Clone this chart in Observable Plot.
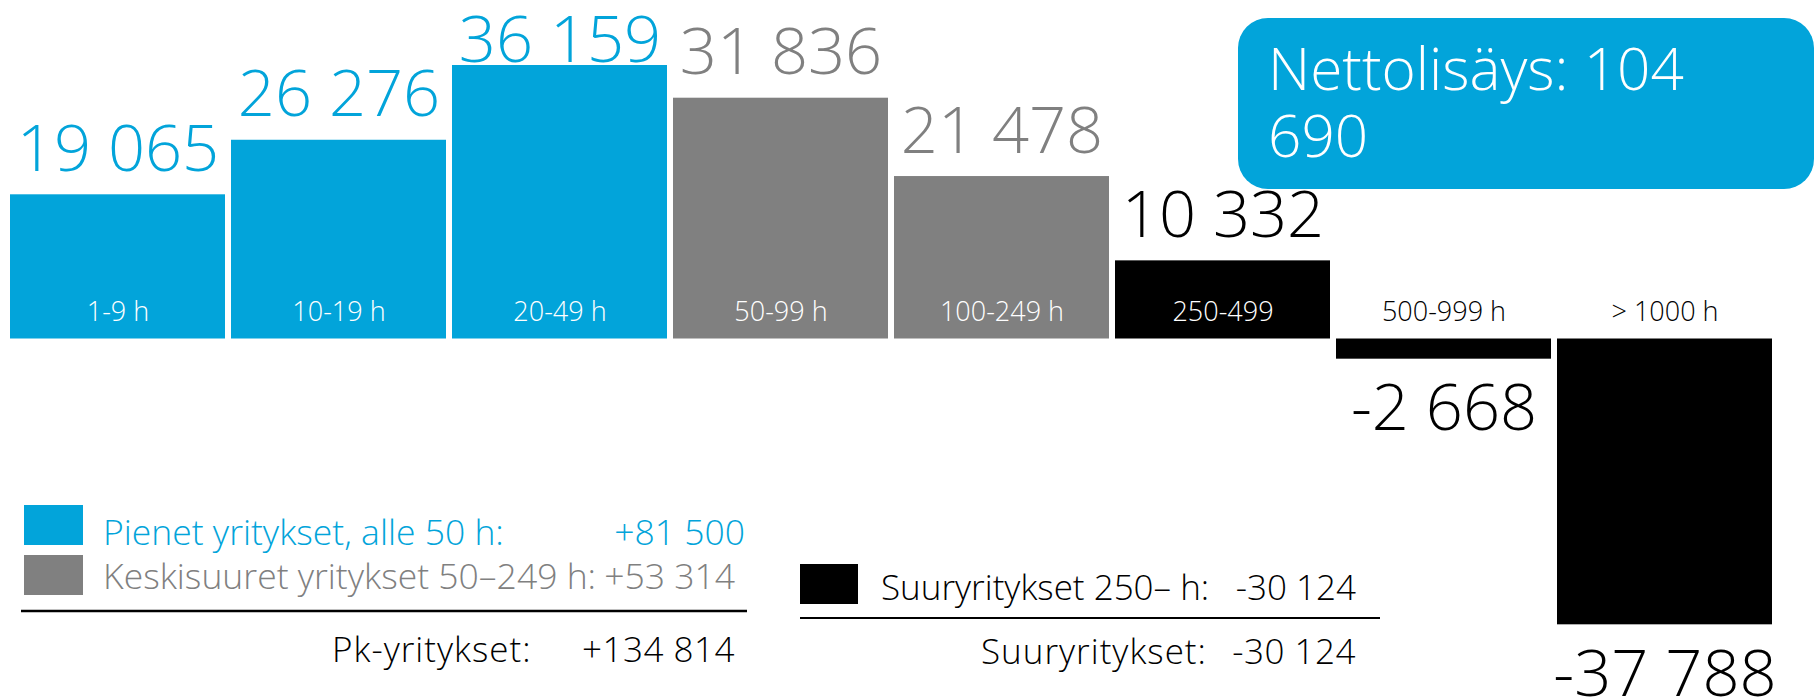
<!DOCTYPE html>
<html><head><meta charset="utf-8">
<script src="https://cdn.jsdelivr.net/npm/d3@7"></script>
<script src="https://cdn.jsdelivr.net/npm/@observablehq/plot@0.6"></script>
<style>
body{margin:0;background:#fff;}
#chart{position:relative;width:1818px;height:700px;}
svg{display:block;}
</style></head><body><div id="chart"></div>
<script>
// ---- data ----
const categories = ["1-9 h","10-19 h","20-49 h","50-99 h","100-249 h","250-499","500-999 h","> 1000 h"];
const values = [19065, 26276, 36159, 31836, 21478, 10332, -2668, -37788];
const valueLabels = ["19 065","26 276","36 159","31 836","21 478","10 332","-2 668","-37 788"];
const groups = ["pienet","pienet","pienet","keski","keski","suur","suur","suur"];
const legendGroups = ["pienet","keski","suur"];
const legendLabels = ["Pienet yritykset, alle 50 h:", "Keskisuuret yritykset 50\u2013249 h:", "Suuryritykset 250\u2013 h:"];
const legendValues = ["+81 500", "+53 314", "-30 124"];
const totalLabels = ["Pk-yritykset:", "Suuryritykset:"];
const totalValues = ["+134 814", "-30 124"];
const netText = "Nettolisäys: 104 690";

// ---- styles ----
const colorOf = {pienet:"#02A4DA", keski:"#808080", suur:"#000000"};
const FONT = "'Open Sans', sans-serif";
const W = 1818, H = 700;
const yDomain = [-47793, 44753];
const pxPerUnit = H / (yDomain[1] - yDomain[0]);
const gapPx = 24, topLimitPx = 61;

const data = categories.map((c, i) => ({cat: c, value: values[i], label: valueLabels[i], group: groups[i]}));
const pos = data.filter(d => d.value >= 0);
const neg = data.filter(d => d.value < 0);

const chart = Plot.plot({
  width: W, height: H, margin: 0,
  style: {fontFamily: FONT, background: "white"},
  x: {domain: categories, range: [9, 1773], paddingInner: 0.0285, paddingOuter: 0, axis: null},
  y: {domain: yDomain, axis: null},
  color: {type: "identity"},
  marks: [
    Plot.barY(data, {x: "cat", y: "value", fill: d => colorOf[d.group]}),
    Plot.text(pos, {
      x: "cat",
      y: d => Math.min(d.value + gapPx / pxPerUnit, yDomain[1] - topLimitPx / pxPerUnit),
      text: "label", lineAnchor: "bottom", fontSize: 65, fontWeight: 300,
      fill: d => colorOf[d.group]
    }),
    Plot.text(neg, {
      x: "cat", y: "value", dy: 25, text: "label", lineAnchor: "top",
      fontSize: 65, fontWeight: 300, fill: d => colorOf[d.group]
    }),
    Plot.text(data, {
      x: "cat", y: 0, dy: -18, text: "cat", lineAnchor: "bottom",
      fontSize: 27, fontWeight: 300, fill: d => d.value >= 0 ? "white" : "black"
    })
  ]
});
document.getElementById("chart").appendChild(chart);

// ---- annotations: callout and legend ----
const svg = d3.select(chart);
const ann = svg.append("g").attr("font-family", FONT).attr("font-weight", 300).attr("text-anchor", "start");
const txt = (x, y, size, fill, t, anchor = "start", weight = 300, spacing = 0) =>
  ann.append("text").attr("x", x).attr("y", y).attr("font-size", size).attr("fill", fill)
    .attr("font-weight", weight).attr("letter-spacing", spacing).attr("text-anchor", anchor).text(t);

// callout box
const sp = netText.lastIndexOf(" ");
const netLines = [netText.slice(0, sp), netText.slice(sp + 1)];
ann.append("rect").attr("x", 1238).attr("y", 18).attr("width", 576).attr("height", 171)
  .attr("rx", 30).attr("fill", colorOf.pienet);
netLines.forEach((t, i) => txt(1268, 90 + i * 66.5, 58.5, "white", t));

// left legend
const leftRows = [{y: 505, base: 545, valEnd: 745}, {y: 555, base: 589, valEnd: 735}];
leftRows.forEach((r, i) => {
  const g = legendGroups[i];
  ann.append("rect").attr("x", 24).attr("y", r.y).attr("width", 59).attr("height", 40).attr("fill", colorOf[g]);
  txt(103, r.base, 35.5, colorOf[g], legendLabels[i]);
  txt(r.valEnd, r.base, 35.5, colorOf[g], legendValues[i], "end");
});
ann.append("line").attr("x1", 21).attr("x2", 747).attr("y1", 611).attr("y2", 611)
  .attr("stroke", "black").attr("stroke-width", 2.5);
txt(332, 662, 35, "black", totalLabels[0], "start", 340, 1);
txt(735, 662, 35, "black", totalValues[0], "end", 340, 0.5);

// right legend
ann.append("rect").attr("x", 800).attr("y", 564).attr("width", 58).attr("height", 40).attr("fill", colorOf.suur);
txt(881, 600, 35, "black", legendLabels[2]);
txt(1356, 600, 35, "black", legendValues[2], "end");
ann.append("line").attr("x1", 800).attr("x2", 1380).attr("y1", 618).attr("y2", 618)
  .attr("stroke", "black").attr("stroke-width", 2);
txt(981, 664, 35, "black", totalLabels[1], "start", 340, 1);
txt(1356, 664, 35, "black", totalValues[1], "end", 340, 0.5);
</script></body></html>
